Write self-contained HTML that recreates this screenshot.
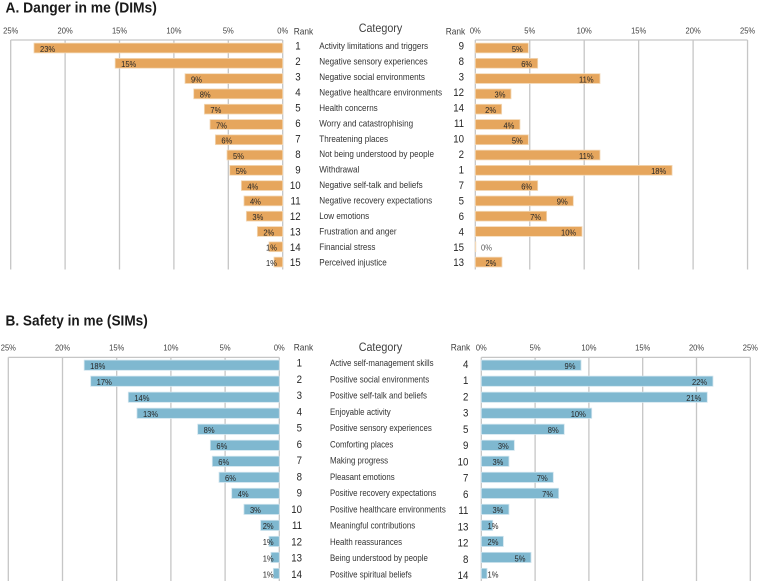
<!DOCTYPE html>
<html lang="en">
<head>
<meta charset="utf-8">
<title>Danger in me and Safety in me</title>
<style>
html,body{margin:0;padding:0;background:#fff;}
svg{display:block;font-family:"Liberation Sans",sans-serif;}
</style>
</head>
<body>
<svg id="chart" width="758" height="583" viewBox="0 0 758 583" xmlns="http://www.w3.org/2000/svg">
  <rect x="0" y="0" width="758" height="583" fill="#ffffff"/>
  <text transform="translate(5.5 12.6) scale(0.955 1)" font-size="14.5" font-weight="700" fill="#1a1a1a">A. Danger in me (DIMs)</text>
  <text transform="translate(5.5 325.6) scale(0.94 1)" font-size="14.5" font-weight="700" fill="#1a1a1a">B. Safety in me (SIMs)</text>
</svg>
<script>
const tickLabels = ['0%', '5%', '10%', '15%', '20%', '25%'];
const tickValues = [0, 5, 10, 15, 20, 25];

const dangerCategories = ['Activity limitations and triggers', 'Negative sensory experiences', 'Negative social environments', 'Negative healthcare environments', 'Health concerns', 'Worry and catastrophising', 'Threatening places', 'Not being understood by people', 'Withdrawal', 'Negative self-talk and beliefs', 'Negative recovery expectations', 'Low emotions', 'Frustration and anger', 'Financial stress', 'Perceived injustice'];
const dangerLeftValues = [22.86, 15.4, 8.98, 8.18, 7.2, 6.68, 6.19, 5.12, 4.87, 3.8, 3.56, 3.34, 2.33, 1.26, 0.8];
const dangerLeftLabels = ['23%', '15%', '9%', '8%', '7%', '7%', '6%', '5%', '5%', '4%', '4%', '3%', '2%', '1%', '1%'];
const dangerLeftRanks = [1, 2, 3, 4, 5, 6, 7, 8, 9, 10, 11, 12, 13, 14, 15];
const dangerRightValues = [4.87, 5.73, 11.45, 3.28, 2.42, 4.1, 4.87, 11.45, 18.07, 5.73, 9.0, 6.55, 9.8, 0.05, 2.45];
const dangerRightLabels = ['5%', '6%', '11%', '3%', '2%', '4%', '5%', '11%', '18%', '6%', '9%', '7%', '10%', '0%', '2%'];
const dangerRightRanks = [9, 8, 3, 12, 14, 11, 10, 2, 1, 7, 5, 6, 4, 15, 13];

const safetyCategories = ['Active self-management skills', 'Positive social environments', 'Positive self-talk and beliefs', 'Enjoyable activity', 'Positive sensory experiences', 'Comforting places', 'Making progress', 'Pleasant emotions', 'Positive recovery expectations', 'Positive healthcare environments', 'Meaningful contributions', 'Health reassurances', 'Being understood by people', 'Positive spiritual beliefs'];
const safetyLeftValues = [18.0, 17.4, 13.93, 13.13, 7.53, 6.36, 6.18, 5.56, 4.39, 3.26, 1.72, 0.95, 0.77, 0.55];
const safetyLeftLabels = ['18%', '17%', '14%', '13%', '8%', '6%', '6%', '6%', '4%', '3%', '2%', '1%', '1%', '1%'];
const safetyLeftRanks = [1, 2, 3, 4, 5, 6, 7, 8, 9, 10, 11, 12, 13, 14];
const safetyRightValues = [9.27, 21.53, 21.0, 10.26, 7.71, 3.07, 2.57, 6.69, 7.19, 2.57, 1.06, 2.05, 4.62, 0.53];
const safetyRightLabels = ['9%', '22%', '21%', '10%', '8%', '3%', '3%', '7%', '7%', '3%', '1%', '2%', '5%', '1%'];
const safetyRightRanks = [4, 1, 2, 3, 5, 9, 10, 7, 6, 11, 13, 12, 8, 14];

const svg = document.getElementById('chart');
const NS = 'http://www.w3.org/2000/svg';
const TEXT_SCALE = 0.88;

function addText(parent, name, str, x, cy, size, anchor, fill, sx) {
  const el = document.createElementNS(NS, 'text');
  
  
  el.setAttribute('transform', 'translate(' + x + ' ' + (cy + size * 0.35) + ') scale(' + (sx || TEXT_SCALE) + ' 1)');
  el.setAttribute('font-size', size);
  el.setAttribute('text-anchor', anchor);
  el.setAttribute('fill', fill);
  el.textContent = str;
  parent.appendChild(el);
  return el;
}

function addLine(parent, name, x1, y1, x2, y2) {
  const el = document.createElementNS(NS, 'line');
  
  
  el.setAttribute('x1', x1);
  el.setAttribute('y1', y1);
  el.setAttribute('x2', x2);
  el.setAttribute('y2', y2);
  el.setAttribute('stroke', '#c6c6c6');
  el.setAttribute('stroke-width', '1.3');
  parent.appendChild(el);
}

function addGroup(name) {
  const g = document.createElementNS(NS, 'g');
  
  
  svg.appendChild(g);
  return g;
}

function drawBars(opt) {
  const g = addGroup(opt.name);
  const xOf = function (v) { return opt.zero + opt.dir * v * opt.scale; };
  const rowY = function (i) { return opt.firstRow + i * opt.rowStep; };

  tickValues.forEach(function (t, i) {
    addLine(g, 'gridline-' + tickLabels[i].replace('%', ''), xOf(t), opt.top, xOf(t), opt.bottom);
    addText(g, 'x-tick-' + tickLabels[i].replace('%', ''), tickLabels[i], xOf(t) + opt.tickDx, opt.tickY, 8.6, 'middle', '#404040');
  });
  addLine(g, 'plot-top-border', xOf(0), opt.top, xOf(25), opt.top);

  opt.values.forEach(function (v, i) {
    const bar = document.createElementNS(NS, 'rect');
    
    
    const end = xOf(v);
    bar.setAttribute('x', Math.min(end, opt.zero));
    bar.setAttribute('y', rowY(i) - opt.barH / 2);
    bar.setAttribute('width', Math.abs(end - opt.zero));
    bar.setAttribute('height', opt.barH);
    bar.setAttribute('fill', opt.color);
    bar.setAttribute('stroke', opt.halo);
    bar.setAttribute('stroke-width', '0.8');
    g.appendChild(bar);
  });

  opt.values.forEach(function (v, i) {
    const end = xOf(v);
    const y = rowY(i) + opt.labelDy;
    const label = opt.labels[i];
    if (opt.dir < 0) {
      addText(g, 'value-label-' + (i + 1), label, Math.min(end + 6, opt.labelClamp), y, 8.6, 'start', '#262626');
    } else {
      const w = label.length > 2 ? 15 : 10.5;
      addText(g, 'value-label-' + (i + 1), label, Math.max(end - 6 - w, opt.labelClamp), y, 8.6, 'start', v < 0.3 ? '#555555' : '#262626');
    }
  });
}

function drawColumn(name, items, x, first, step, size, anchor, fill, sx) {
  const g = addGroup(name);
  items.forEach(function (item, i) {
    addText(g, name + '-' + (i + 1), String(item), x, first + i * step, size, anchor, fill, sx);
  });
}

function drawPanel(p) {
  drawBars({name: p.name + '-left-bars', dir: -1, zero: p.lz, scale: p.ls, top: p.top, bottom: p.bottom, tickY: p.tickY, tickDx: 0, firstRow: p.firstRow, rowStep: p.rowStep, barH: p.barH, values: p.leftValues, labels: p.leftLabels, labelClamp: p.lClamp, labelDy: 0.8, color: p.color, halo: p.halo});
  drawBars({name: p.name + '-right-bars', dir: 1, zero: p.rz, scale: p.rs, top: p.top, bottom: p.bottom, tickY: p.tickY, tickDx: 0, firstRow: p.firstRow, rowStep: p.rowStep, barH: p.barH, values: p.rightValues, labels: p.rightLabels, labelClamp: p.rClamp, labelDy: 0.8, color: p.color, halo: p.halo});
  drawColumn(p.name + '-left-rank', p.leftRanks, p.lRankX, p.lRankY, p.rankStep, 11, 'end', '#262626');
  drawColumn(p.name + '-category', p.categories, p.catX, p.catY, p.rankStep, 9, 'start', '#333333', p.catScale);
  drawColumn(p.name + '-right-rank', p.rightRanks, p.rRankX, p.rRankY, p.rankStep, 11, 'end', '#262626');
  addText(svg, p.name + '-left-rank-header', 'Rank', p.lHeadX, p.headY, 9.5, 'start', '#404040');
  addText(svg, p.name + '-category-header', 'Category', 358.7, p.catHeadY, 12.2, 'start', '#404040');
  addText(svg, p.name + '-right-rank-header', 'Rank', p.rHeadX, p.headY, 9.5, 'start', '#404040');
}

drawPanel({
  name: 'danger', color: '#e6a65d', halo: '#f3d9b8',
  lz: 282.7, ls: 10.88, rz: 475.3, rs: 10.89, top: 40, bottom: 269.5, tickY: 30.6,
  firstRow: 48, rowStep: 15.29, barH: 9.8, lClamp: 266, rClamp: 481,
  leftValues: dangerLeftValues, leftLabels: dangerLeftLabels, leftRanks: dangerLeftRanks,
  rightValues: dangerRightValues, rightLabels: dangerRightLabels, rightRanks: dangerRightRanks,
  categories: dangerCategories, catScale: 0.9,
  lRankX: 300.6, lRankY: 45.8, rRankX: 464, rRankY: 45.8, rankStep: 15.47, catX: 319.3, catY: 45.8,
  lHeadX: 293.7, rHeadX: 445.7, headY: 31, catHeadY: 27.5
});

drawPanel({
  name: 'safety', color: '#7fb8d0', halo: '#cfe4ee',
  lz: 279.3, ls: 10.84, rz: 481.3, rs: 10.76, top: 357.4, bottom: 581, tickY: 347.5,
  firstRow: 365.2, rowStep: 16.02, barH: 10.2, lClamp: 262.7, rClamp: 487.5,
  leftValues: safetyLeftValues, leftLabels: safetyLeftLabels, leftRanks: safetyLeftRanks,
  rightValues: safetyRightValues, rightLabels: safetyRightLabels, rightRanks: safetyRightRanks,
  categories: safetyCategories, catScale: 0.875,
  lRankX: 302, lRankY: 362.8, rRankX: 468.4, rRankY: 364, rankStep: 16.25, catX: 330, catY: 363,
  lHeadX: 293.7, rHeadX: 450.7, headY: 347, catHeadY: 346.7
});
</script>
</body>
</html>
